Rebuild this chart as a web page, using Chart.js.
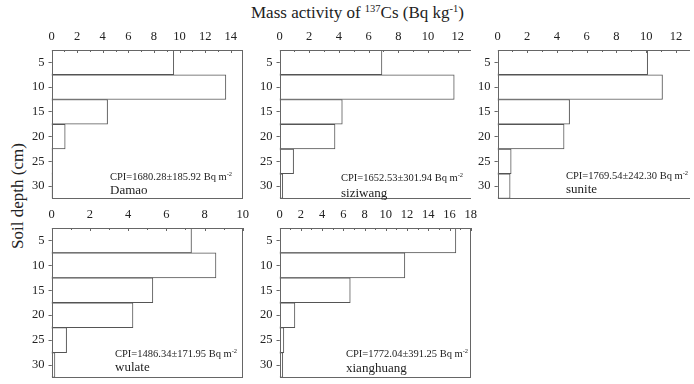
<!DOCTYPE html>
<html>
<head>
<meta charset="utf-8">
<script src="https://cdn.jsdelivr.net/npm/chart.js@4.4.0/dist/chart.umd.min.js"></script>
<style>
  html, body { margin: 0; padding: 0; background: #fff; overflow: hidden; }
  body { width: 694px; height: 384px; position: relative; font-family: 'Liberation Serif', 'DejaVu Serif', serif; color: #222; }
  canvas { position: absolute; }
  .txt { position: absolute; white-space: nowrap; }
  .cpi { font-size: 10.5px; line-height: 12px; }
  .site { font-size: 13px; line-height: 14px; }
  sup { font-size: 0.62em; vertical-align: 0; position: relative; top: -0.55em; }
  #title { left: 251px; top: 3px; font-size: 17px; }
  #ytitle { left: 18px; top: 196px; font-size: 17px; transform: translate(-50%, -50%) rotate(-90deg); }
</style>
</head>
<body>
<div id="title" class="txt">Mass activity of <sup>137</sup>Cs (Bq kg<sup>-1</sup>)</div>
<div id="ytitle" class="txt">Soil depth (cm)</div>

<canvas id="c1"></canvas>
<canvas id="c2"></canvas>
<canvas id="c3"></canvas>
<canvas id="c4"></canvas>
<canvas id="c5"></canvas>

<script>
// depth of each layer (cm), same for all sites
const depths = [5, 10, 15, 20, 25, 30];
const depthTicks = [5, 10, 15, 20, 25, 30];

// 137Cs mass activity (Bq/kg) per layer
const damao      = [9.55, 13.62, 4.38, 1.07, 0.08, 0.05];
const siziwang   = [6.9, 11.77, 4.23, 3.74, 0.95, 0.22];
const sunite     = [10.1, 11.1, 4.85, 4.48, 0.92, 0.85];
const wulate     = [7.32, 8.6, 5.3, 4.26, 0.79, 0.18];
const xianghuang = [16.6, 11.8, 6.66, 1.45, 0.41, 0.31];

const sites = ['Damao', 'siziwang', 'sunite', 'wulate', 'xianghuang'];
const cpi = [
  'CPI=1680.28±185.92 Bq m',
  'CPI=1652.53±301.94 Bq m',
  'CPI=1769.54±242.30 Bq m',
  'CPI=1486.34±171.95 Bq m',
  'CPI=1772.04±391.25 Bq m'
];

// x axis tick labels for each panel
const ticks1 = [0, 2, 4, 6, 8, 10, 12, 14];
const ticks2 = [0, 2, 4, 6, 8, 10, 12];
const ticks3 = [0, 2, 4, 6, 8, 10, 12];
const ticks4 = [0, 2, 4, 6, 8, 10];
const ticks5 = [0, 2, 4, 6, 8, 10, 12, 14, 16, 18];

const FONT = "'Liberation Serif', 'DejaVu Serif', serif";

const panels = [
  { id: 'c1', vals: damao,      ticks: ticks1, max: 14.9,  area: [51, 50, 242, 198], txt: [110, 177, 190] },
  { id: 'c2', vals: siziwang,   ticks: ticks2, max: 12.9,  area: [279, 50, 470, 198], txt: [341, 178, 193] },
  { id: 'c3', vals: sunite,     ticks: ticks3, max: 12.95, area: [497, 50, 689, 198], txt: [566, 176, 189] },
  { id: 'c4', vals: wulate,     ticks: ticks4, max: 10,    area: [51, 228, 242, 377], txt: [115, 354, 367] },
  { id: 'c5', vals: xianghuang, ticks: ticks5, max: 18,    area: [279, 228, 470, 377], txt: [346, 354, 368] }
];

const frame = {
  id: 'frame',
  afterDatasetsDraw(chart) {
    const { ctx, chartArea: a, scales } = chart;
    ctx.save();
    ctx.strokeStyle = '#666';
    ctx.lineWidth = 1;
    ctx.strokeRect(Math.round(a.left) + 0.5, Math.round(a.top) + 0.5,
      Math.round(a.right - a.left) - 1, Math.round(a.bottom - a.top) - 1);
    // small inward ticks on the top axis, one per unit
    const xs = scales.x;
    for (let v = 0; v <= xs.max; v += 1) {
      const px = Math.round(xs.getPixelForValue(v)) + 0.5;
      ctx.beginPath();
      ctx.moveTo(px, a.top);
      ctx.lineTo(px, a.top + (v % 2 === 0 ? 3 : 2));
      ctx.stroke();
    }
    ctx.restore();
  }
};

function build(cv, p) {
  return new Chart(cv, {
    type: 'bar',
    data: {
      datasets: [{
        data: depths.map((d, k) => ({ x: p.vals[k], y: d })),
        backgroundColor: '#ffffff',
        borderColor: '#555',
        borderWidth: 1,
        barPercentage: 1,
        categoryPercentage: 1
      }]
    },
    options: {
      indexAxis: 'y',
      responsive: false,
      maintainAspectRatio: false,
      animation: false,
      layout: { padding: 0 },
      plugins: { legend: { display: false }, tooltip: { enabled: false } },
      scales: {
        x: {
          type: 'linear',
          position: 'top',
          min: 0,
          max: p.max,
          afterBuildTicks: s => { s.ticks = p.ticks.map(v => ({ value: v })); },
          grid: { display: false, drawTicks: false, drawOnChartArea: false },
          border: { display: false },
          ticks: { color: '#222', padding: 6, maxRotation: 0, font: { family: FONT, size: 12.5 } }
        },
        y: {
          type: 'linear',
          reverse: true,
          offset: false,
          min: 2.5,
          max: 32.5,
          afterBuildTicks: s => { s.ticks = depthTicks.map(v => ({ value: v })); },
          grid: { offset: false, drawOnChartArea: false, tickLength: 3, color: '#666' },
          border: { display: false },
          ticks: { color: '#222', padding: 4, font: { family: FONT, size: 12.5 } }
        }
      }
    },
    plugins: [frame]
  });
}

panels.forEach((p, i) => {
  const cv = document.getElementById(p.id);
  const [l, t, r, b] = p.area;
  // first pass: measure the margins Chart.js keeps around the plot area
  cv.width = r - l + 60; cv.height = b - t + 60;
  let chart = build(cv, p);
  const a = chart.chartArea;
  const ml = a.left, mt = a.top, mr = chart.width - a.right, mb = chart.height - a.bottom;
  chart.destroy();
  // second pass: size the canvas so the plot area lands where the reference has it
  const w = Math.round(r - l + ml + mr), h = Math.round(b - t + mt + mb);
  cv.width = w; cv.height = h;
  cv.style.width = w + 'px'; cv.style.height = h + 'px';
  chart = build(cv, p);
  const a2 = chart.chartArea;
  cv.style.left = Math.round(l - a2.left) + 'px';
  cv.style.top = Math.round(t - a2.top) + 'px';

  const c = document.createElement('div');
  c.className = 'txt cpi';
  c.style.left = p.txt[0] + 'px';
  c.style.top = (p.txt[1] - 6) + 'px';
  c.innerHTML = cpi[i] + '<sup>-2</sup>';
  document.body.appendChild(c);
  const s = document.createElement('div');
  s.className = 'txt site';
  s.style.left = p.txt[0] + 'px';
  s.style.top = (p.txt[2] - 7) + 'px';
  s.textContent = sites[i];
  document.body.appendChild(s);
});
</script>
</body>
</html>
